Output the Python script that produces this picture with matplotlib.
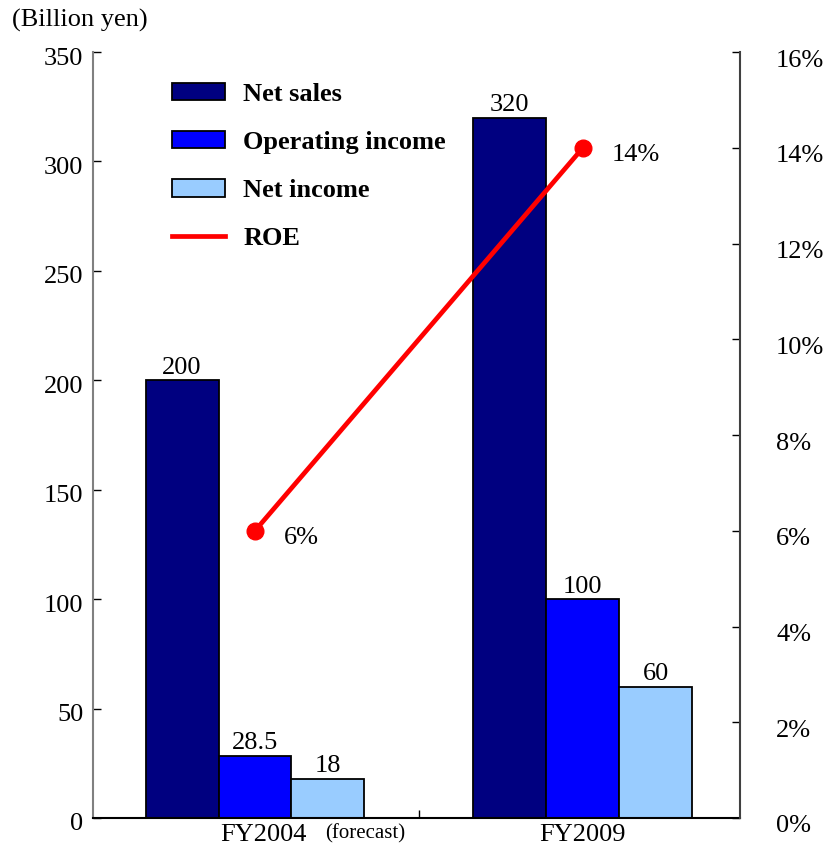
import matplotlib.pyplot as plt
from matplotlib.patches import Patch
from matplotlib.lines import Line2D
from matplotlib.transforms import ScaledTranslation
import numpy as np

plt.rcParams['font.family'] = ['Liberation Serif', 'DejaVu Serif']

years = ["FY2004", "FY2009"]
net_sales = [200, 320]
operating_income = [28.5, 100]
net_income = [18, 60]
roe = [6, 14]
series_names = ["Net sales", "Operating income", "Net income", "ROE"]
bar_colors = ["#000080", "#0000ff", "#99ccff"]

fig = plt.figure(figsize=(8.29, 8.46), dpi=100)
ax = fig.add_axes([0.1122, 0.0331, 0.7804, 0.9054])

x = np.arange(len(years))
w = 0.2226
groups = [net_sales, operating_income, net_income]
for i, vals in enumerate(groups):
    xs = x + (i - 1) * w
    ax.bar(xs, vals, width=w, color=bar_colors[i], edgecolor="black", linewidth=1.3, zorder=2)
    for xx, v in zip(xs, vals):
        ax.annotate(f"{v:g}", (xx, v), xytext=(0, 1), textcoords="offset points",
                    ha="center", va="bottom", fontsize=19)

ax.set_xlim(-0.494, 1.479)
ax.set_ylim(0, 350)
ax.set_yticks(range(0, 351, 50))
ax.tick_params(axis="y", direction="in", length=6, width=1, labelsize=19, pad=7)
ax.set_xticks(x)
ax.set_xticklabels(years, fontsize=19)
ax.tick_params(axis="x", length=0, pad=4)
ax.set_xticks([0.5], minor=True)
ax.tick_params(axis="x", which="minor", direction="in", length=6, width=1)
ax.text(0.335, -0.008, "(forecast)", transform=ax.get_xaxis_transform(),
        ha="center", va="top", fontsize=15)

# small nudges to match the original label placement
for lbl in ax.get_yticklabels():
    lbl.set_transform(lbl.get_transform() + ScaledTranslation(0, -4 / 100, fig.dpi_scale_trans))
xl = ax.get_xticklabels()
xl[0].set_transform(xl[0].get_transform() + ScaledTranslation(8 / 100, 0, fig.dpi_scale_trans))

ax.spines["top"].set_visible(False)
ax.spines["right"].set_visible(False)
ax.spines["left"].set_color("#808080")
ax.spines["left"].set_linewidth(1.5)
ax.spines["bottom"].set_linewidth(1.5)

ax2 = ax.twinx()
ax2.set_ylim(0, 16)
ax2.set_yticks(range(0, 17, 2))
ax2.set_yticklabels([f"{t}%" for t in range(0, 17, 2)])
ax2.tick_params(axis="y", direction="in", length=6, width=1, labelsize=19, pad=26)
for lbl in ax2.get_yticklabels():
    lbl.set_transform(lbl.get_transform() + ScaledTranslation(0, -6 / 100, fig.dpi_scale_trans))
for s in ["top", "left", "bottom"]:
    ax2.spines[s].set_visible(False)
ax2.spines["right"].set_color("#404040")
ax2.spines["right"].set_linewidth(1.5)

ax2.plot(x, roe, color="red", linewidth=3.4, marker="o", markersize=12,
         solid_capstyle="butt", zorder=3)
for xx, v in zip(x, roe):
    ax2.annotate(f"{v}%", (xx, v), xytext=(21, -5), textcoords="offset points",
                 ha="left", va="center", fontsize=19)

handles = [Patch(facecolor=c, edgecolor="black", linewidth=1.3) for c in bar_colors]
handles.append(Line2D([0], [0], color="red", linewidth=3.4))
ax2.legend(handles, series_names, loc="upper left", bbox_to_anchor=(0.122, 0.96),
           frameon=False, prop={"weight": "bold", "size": 19}, handlelength=2.0,
           handleheight=0.65, handletextpad=0.7, labelspacing=0.95, borderpad=0,
           borderaxespad=0)

fig.text(0.0145, 0.976, "(Billion yen)", fontsize=19, ha="left", va="center")

fig.savefig("out.png", dpi=100)
